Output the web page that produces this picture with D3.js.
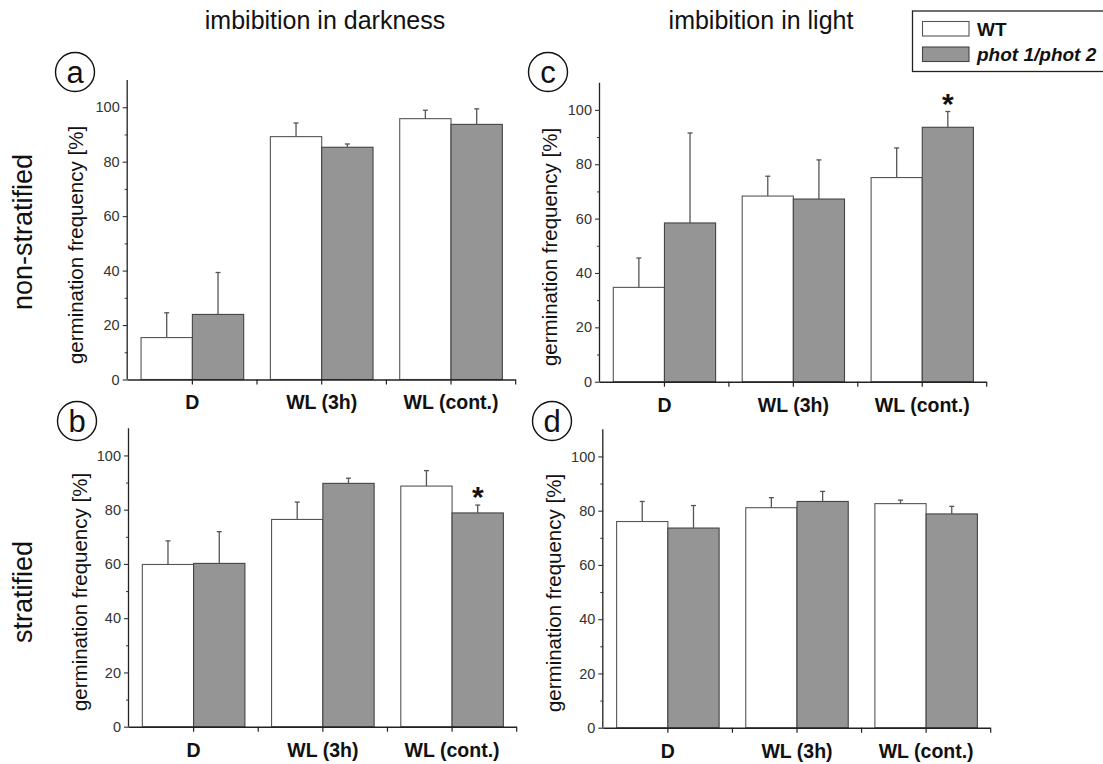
<!DOCTYPE html>
<html>
<head>
<meta charset="utf-8">
<script src="https://cdn.jsdelivr.net/npm/d3@7"></script>
<style>
  html, body { margin: 0; padding: 0; background: #fff; }
  svg { display: block; font-family: "Liberation Sans", Arial, sans-serif; }
</style>
</head>
<body>
<svg id="chart" width="1103" height="764"></svg>
<script>
// ---- data ----
const categories = ["D", "WL (3h)", "WL (cont.)"];
const seriesNames = ["WT", "phot 1/phot 2"];
const yTicks = [0, 20, 40, 60, 80, 100];
const yMinorTicks = [10, 30, 50, 70, 90];

// panel a: non-stratified, imbibition in darkness
const aWT = [15.4, 89.2, 95.8];
const aWTerr = [9.1, 5.0, 3.1];
const aMut = [23.9, 85.3, 93.7];
const aMutErr = [15.4, 1.2, 5.7];
// panel b: stratified, imbibition in darkness
const bWT = [59.8, 76.4, 88.7];
const bWTerr = [8.7, 6.4, 5.7];
const bMut = [60.2, 89.7, 78.8];
const bMutErr = [11.7, 1.9, 2.9];
// panel c: non-stratified, imbibition in light
const cWT = [34.7, 68.3, 75.1];
const cWTerr = [10.8, 7.3, 10.9];
const cMut = [58.4, 67.2, 93.6];
const cMutErr = [33.1, 14.4, 5.8];
// panel d: stratified, imbibition in light
const dWT = [76.0, 81.1, 82.6];
const dWTerr = [7.4, 3.7, 1.3];
const dMut = [73.6, 83.4, 78.8];
const dMutErr = [8.3, 3.7, 2.8];

// significance markers: [category index, series index]
const aStars = [];
const bStars = [[2, 1]];
const cStars = [[2, 1]];
const dStars = [];

// ---- layout ----
const panels = [
  { letter: "a", x0: 127.7, x1: 515.7, yTop: 80, yBot: 379.5, wt: aWT, wtE: aWTerr, mu: aMut, muE: aMutErr, stars: aStars, circ: [75, 72], ylab: [76, 245] },
  { letter: "b", x0: 129, x1: 516.7, yTop: 428.3, yBot: 726.7, wt: bWT, wtE: bWTerr, mu: bMut, muE: bMutErr, stars: bStars, circ: [77, 421], ylab: [80, 592] },
  { letter: "c", x0: 600, x1: 986.7, yTop: 82.7, yBot: 381.7, wt: cWT, wtE: cWTerr, mu: cMut, muE: cMutErr, stars: cStars, circ: [548, 72], ylab: [550, 247] },
  { letter: "d", x0: 603.3, x1: 990.7, yTop: 429.3, yBot: 727.7, wt: dWT, wtE: dWTerr, mu: dMut, muE: dMutErr, stars: dStars, circ: [552, 421], ylab: [554, 593] }
];

const svg = d3.select("#chart");
const fills = ["#ffffff", "#959595"];
const strokes = ["#555555", "#444444"];

panels.forEach(p => {
  const g = svg.append("g");
  const x = d3.scaleBand().domain(categories).range([p.x0, p.x1]);
  const xs = d3.scaleBand().domain(seriesNames).range([0, x.bandwidth()]).paddingOuter(0.26);
  const y = d3.scaleLinear().domain([0, 110]).range([p.yBot, p.yTop]);

  const rows = categories.map((c, i) => [
    { cat: c, s: seriesNames[0], v: p.wt[i], e: p.wtE[i], k: 0 },
    { cat: c, s: seriesNames[1], v: p.mu[i], e: p.muE[i], k: 1 }
  ]).flat();

  // bars
  g.selectAll("rect.bar").data(rows).join("rect")
    .attr("class", "bar")
    .attr("x", d => x(d.cat) + xs(d.s))
    .attr("y", d => y(d.v))
    .attr("width", xs.bandwidth())
    .attr("height", d => y(0) - y(d.v))
    .attr("fill", d => fills[d.k])
    .attr("stroke", d => strokes[d.k])
    .attr("stroke-width", 1.1);

  // error bars
  const eb = g.selectAll("g.err").data(rows).join("g").attr("class", "err")
    .attr("stroke", "#555").attr("stroke-width", 1.3);
  eb.append("line")
    .attr("x1", d => x(d.cat) + xs(d.s) + xs.bandwidth() / 2)
    .attr("x2", d => x(d.cat) + xs(d.s) + xs.bandwidth() / 2)
    .attr("y1", d => y(d.v))
    .attr("y2", d => y(d.v + d.e));
  eb.append("line")
    .attr("x1", d => x(d.cat) + xs(d.s) + xs.bandwidth() / 2 - 2.5)
    .attr("x2", d => x(d.cat) + xs(d.s) + xs.bandwidth() / 2 + 2.5)
    .attr("y1", d => y(d.v + d.e))
    .attr("y2", d => y(d.v + d.e));

  // stars
  p.stars.forEach(([ci, si]) => {
    const d = rows[ci * 2 + si];
    g.append("text")
      .attr("x", x(d.cat) + xs(d.s) + xs.bandwidth() / 2)
      .attr("y", y(d.v + d.e) + 2)
      .attr("text-anchor", "middle")
      .attr("font-size", 30)
      .attr("font-weight", "bold")
      .attr("fill", "#111")
      .text("*");
  });

  // y axis
  const yAx = g.append("g").attr("transform", `translate(${p.x0},0)`)
    .call(d3.axisLeft(y).tickValues(yTicks).tickSize(5).tickPadding(3));
  yAx.select(".domain").attr("d", `M-0.5,${p.yBot}V${p.yTop}`).attr("stroke", "#222").attr("stroke-width", 1.3);
  yAx.selectAll(".tick line").attr("stroke", "#333").attr("stroke-width", 1.1);
  yAx.selectAll(".tick text").attr("font-size", 14.5).attr("fill", "#333")
    .attr("font-family", "'Liberation Sans', Arial, sans-serif");
  const yMin = g.append("g").attr("transform", `translate(${p.x0},0)`)
    .call(d3.axisLeft(y).tickValues(yMinorTicks).tickSize(3).tickFormat(""));
  yMin.select(".domain").remove();
  yMin.selectAll(".tick line").attr("stroke", "#333");

  // x axis
  const xAx = g.append("g").attr("transform", `translate(0,${p.yBot})`)
    .call(d3.axisBottom(x).tickSize(5).tickPadding(11));
  xAx.select(".domain").attr("d", `M${p.x0},0.5H${p.x1}`).attr("stroke", "#222").attr("stroke-width", 1.5);
  xAx.selectAll(".tick line").attr("stroke", "#222").attr("stroke-width", 1.2);
  xAx.selectAll(".tick text").attr("font-size", 19.5).attr("font-weight", "bold").attr("fill", "#111")
    .attr("font-family", "'Liberation Sans', Arial, sans-serif");
  // boundary ticks between categories
  const bounds = categories.slice(1).map(c => x(c)).concat([p.x1]);
  g.selectAll("line.btick").data(bounds).join("line")
    .attr("x1", d => d).attr("x2", d => d)
    .attr("y1", p.yBot).attr("y2", p.yBot + 5)
    .attr("stroke", "#222").attr("stroke-width", 1.2);

  // y label
  g.append("text")
    .attr("transform", `translate(${p.ylab[0] + 7},${p.ylab[1]}) rotate(-90)`)
    .attr("text-anchor", "middle")
    .attr("font-size", 20.5)
    .attr("fill", "#111")
    .text("germination frequency [%]");

  // circled letter
  g.append("circle").attr("cx", p.circ[0]).attr("cy", p.circ[1]).attr("r", 19.5)
    .attr("fill", "none").attr("stroke", "#111").attr("stroke-width", 1.4);
  g.append("text").attr("x", p.circ[0]).attr("y", p.circ[1] + 10.5)
    .attr("text-anchor", "middle").attr("font-size", 31).attr("fill", "#111")
    .text(p.letter);
});

// column titles
svg.append("text").attr("x", 325).attr("y", 29).attr("text-anchor", "middle")
  .attr("font-size", 25).attr("fill", "#111").text("imbibition in darkness");
svg.append("text").attr("x", 761).attr("y", 29).attr("text-anchor", "middle")
  .attr("font-size", 25).attr("fill", "#111").text("imbibition in light");

// row labels
svg.append("text").attr("transform", "translate(32,232) rotate(-90)").attr("text-anchor", "middle")
  .attr("font-size", 27).attr("fill", "#111").text("non-stratified");
svg.append("text").attr("transform", "translate(32,592) rotate(-90)").attr("text-anchor", "middle")
  .attr("font-size", 27).attr("fill", "#111").text("stratified");

// legend
const lg = svg.append("g");
lg.append("rect").attr("x", 912.5).attr("y", 11).attr("width", 200).attr("height", 60.5)
  .attr("fill", "#fff").attr("stroke", "#222").attr("stroke-width", 1.3);
seriesNames.forEach((s, i) => {
  lg.append("rect").attr("x", 922.5).attr("y", 21.5 + i * 25.5).attr("width", 46.5).attr("height", 14.5)
    .attr("fill", fills[i]).attr("stroke", strokes[i]).attr("stroke-width", 1.1);
  lg.append("text").attr("x", 977).attr("y", 35.5 + i * 25.5)
    .attr("font-size", 19).attr("font-weight", "bold")
    .attr("font-style", i === 1 ? "italic" : "normal").attr("fill", "#111").text(s);
});
</script>
</body>
</html>
